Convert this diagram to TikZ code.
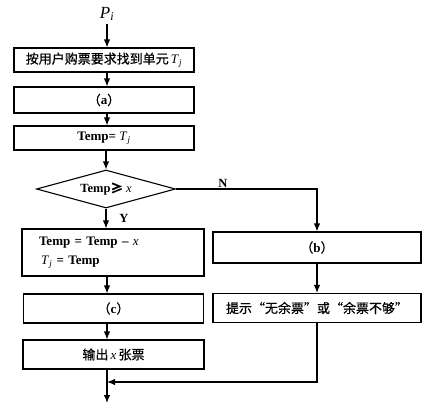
\documentclass[tikz,border=0pt]{standalone}
\usepackage{fontspec}
\setmainfont{Liberation Serif}
\newfontfamily\cjk[FakeBold=0.6]{Noto Sans CJK SC}
\usetikzlibrary{shapes.geometric,arrows.meta}
\newcommand\zh[1]{{\cjk #1}}
\newcommand\Tj{{\mdseries\textit{T}\kern0.3pt\textsubscript{\textit{j}}}}
\newcommand\xv{{\mdseries\textit{x}}}
\tikzset{
  box/.style={draw,line width=1.1pt,rectangle,inner sep=0pt,font=\fontsize{13}{15}\selectfont},
  dec/.style={draw,line width=1.1pt,diamond,aspect=3.6,inner sep=0pt,minimum width=139pt,minimum height=38pt,font=\fontsize{12.5}{14}\selectfont},
  flow/.style={line width=1.2pt,-{Latex[length=8pt,width=6.5pt]}},
  lab/.style={font=\fontsize{12.5}{14}\selectfont\bfseries}
}
\begin{document}
\begin{tikzpicture}[x=1pt,y=-1pt]
\useasboundingbox (0,0) rectangle (441,412);
\node[font=\fontsize{17}{18}\selectfont] (pi) at (107,14) {\textit{P}\textsubscript{\textit{i}}};
\node[box,minimum width=180pt,minimum height=24pt] (b1) at (104,60) {\zh{按用户购票要求找到单元}\,\Tj};
\node[box,minimum width=180pt,minimum height=26pt] (b2) at (104,100) {\zh{（}\textbf{a}\zh{）}};
\node[box,minimum width=180pt,minimum height=24pt] (b3) at (104,138) {\bfseries Temp= \Tj};
\node[dec] (d) at (106,189) {\bfseries Temp\zh{≥} \xv};
\node[box,minimum height=47pt,text width=148pt,inner xsep=17pt,align=left] (b4) at (113,252.5) {\bfseries Temp = Temp -- \xv\\[4pt]\hspace*{2pt}\Tj\ = Temp};
\node[box,minimum width=180pt,minimum height=29pt] (b5) at (113.5,308.5) {\zh{（}\textbf{c}\zh{）}};
\node[box,minimum width=181pt,minimum height=29pt] (b6) at (113.5,354.5) {\zh{输出}\,\xv\,\zh{张票}};
\node[box,minimum width=208pt,minimum height=31pt] (rb) at (317,247.5) {\zh{（}\textbf{b}\zh{）}};
\node[box,minimum width=208pt,minimum height=29pt] (rt) at (317,308) {\zh{提示“无余票”或“余票不够”}};
\coordinate (m) at (107,382);
\coordinate (e) at (107,403);
\coordinate (rc) at (317,189);
\node[lab] (ny) at (124,218) {Y};
\node[lab] (nn) at (223,183) {N};
\draw[flow] (pi.south) -- (b1.north -| pi.south);
\draw[flow] (b1.south -| pi.south) -- (b2.north -| pi.south);
\draw[flow] (b2.south -| pi.south) -- (b3.north -| pi.south);
\draw[flow] (b3.south -| d.north) -- (d.north);
\draw[flow] (d.south) -- (b4.north -| d.south);
\draw[flow] (b4.south -| m) -- (b5.north -| m);
\draw[flow] (b5.south -| m) -- (b6.north -| m);
\draw[flow] (d.east) -- (rc) -- (rb.north);
\draw[flow] (rb.south) -- (rt.north);
\draw[flow] (rt.south) -- (rt.south |- m) -- (m);
\draw[flow] (b6.south -| m) -- (e);
\end{tikzpicture}
\end{document}
